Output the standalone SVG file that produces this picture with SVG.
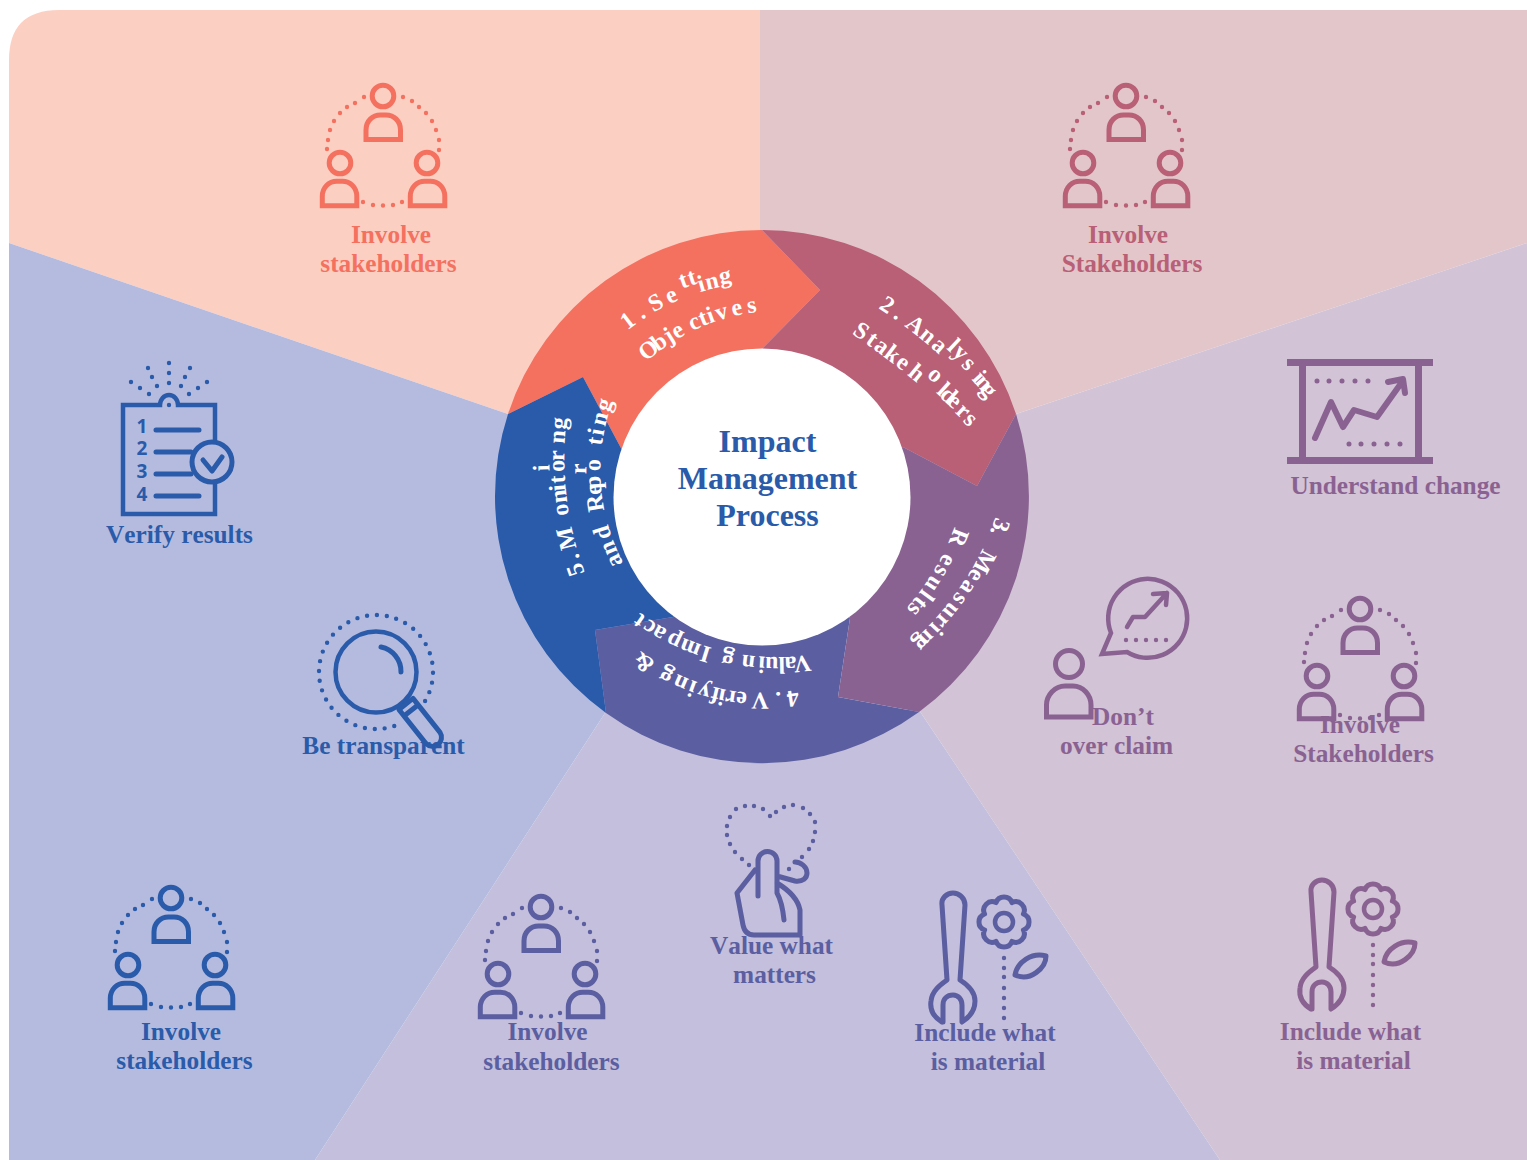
<svg xmlns="http://www.w3.org/2000/svg" width="1527" height="1160" viewBox="0 0 1527 1160">
<style>
.l{font:bold 25.3px "Liberation Serif",serif;text-anchor:middle;font-kerning:none}
.t{font:bold 32px "Liberation Serif",serif;text-anchor:middle;fill:#2a5baa}
.r{font:bold 24px "Liberation Serif",serif;fill:#fff;font-kerning:none}
.i{fill:none;stroke:currentColor;stroke-width:4.5}
.p{fill:none;stroke:currentColor;stroke-width:5}
.j{stroke-linejoin:round;stroke-linecap:round;stroke-width:5}
.d{fill:none;stroke:currentColor;stroke-width:4.4;stroke-linecap:round}
.c1{color:#f47160;fill:#f47160}.c2{color:#b95f76;fill:#b95f76}.c3{color:#8a6292;fill:#8a6292}.c4{color:#5b5ea0;fill:#5b5ea0}.c5{color:#2a5baa;fill:#2a5baa}
.n{font:bold 19px "Open Sans",sans-serif;text-anchor:middle;fill:#2a5baa}
</style>
<defs>
<path id="b" d="M0 24.5H34.5V15C34.5 6 28 0 20 0H14.5C6.5 0 0 6 0 15Z"/>
<g id="people">
<circle class="p" cx="0" cy="0" r="10.800"/><circle class="p" cx="-43" cy="67" r="10.800"/><circle class="p" cx="44" cy="67" r="10.800"/>
<use href="#b" class="p" x="-17" y="19"/><use href="#b" class="p" x="-60.700" y="85.300"/><use href="#b" class="p" x="27.300" y="85.300"/>
<path class="d" d="M-19 1h0M-28 7h0M-36 11h0M-43 17h0M-49 25h0M-53 34h0M-55 44h0M-56 53h0M20 1h0M29 5h0M36 11h0M43 17h0M49 25h0M53 34h0M56 44h0M56 54h0M-20 106h0M-10 109h0M0 109.500h0M10 109h0M19 106h0"/>
</g>
<g id="tool">
<path class="i j" d="M942 1022C932 1016 930 1008 931 1001C932 991 940 985 947 980L942 905C941 898 947 893 953 893C959 893 965 898 965 905L960 980C968 985 975 991 975 1001C975 1010 970 1017 962 1022V1005C962 999 958 995 953 995C947 995 943 999 943 1005V1022"/>
<circle class="i" cx="1004" cy="922" r="9"/>
<path class="i j" transform="translate(1004 922)" d="M19.400-8A8.500 8.500 0 0 1 19.400 8A8.500 8.500 0 0 1 8 19.400A8.500 8.500 0 0 1-8 19.400A8.500 8.500 0 0 1-19.400 8A8.500 8.500 0 0 1-19.400-8A8.500 8.500 0 0 1-8-19.400A8.500 8.500 0 0 1 8-19.400A8.500 8.500 0 0 1 19.400-8Z"/>
<path class="d" d="M1004 958h0M1004 968h0M1004 977h0M1004 988h0M1004 998h0M1004 1008h0M1004 1018h0"/>
<path class="i j" d="M1015 975C1017 962 1032 952 1046 956C1046 968 1030 982 1015 975Z"/>
</g>
<path id="t1a" d="M627.400 330.700A214 214 0 0 1 799.200 286.300"/>
<path id="t1b" d="M646.100 361.900A205 205 0 0 1 775 310.500"/>
<path id="t2a" d="M878 308A450 450 0 0 1 990 409"/>
<path id="t2b" d="M851.400 333.600A800 800 0 0 1 974.600 436"/>
<path id="t3a" d="M996 516A300 300 0 0 1 906.500 646.600"/>
<path id="t3b" d="M954.500 526.700A250 250 0 0 1 899.200 616"/>
<path id="t4a" d="M797.700 689.700A196 196 0 0 1 630.900 642.600"/>
<path id="t4b" d="M810.200 654.800A234 234 0 0 1 631.800 606.300"/>
<path id="t5a" d="M585 573A325 325 0 0 1 568 410"/>
<path id="t5b" d="M625 566A197 197 0 0 1 615 396"/>
</defs>

<g id="background">
<path fill="#fccfc3" d="M9 243V60Q9 10 59 10H760V497H762L508 414Z"/>
<path fill="#e3c6ca" d="M760 10H1527V243L1016 414L762 497H760Z"/>
<path fill="#d2c3d6" d="M1527 243V1160H1220L919 710L762 497L1016 414Z"/>
<path fill="#c3bfdc" d="M607 710H919L1220 1160H315Z"/>
<path fill="#b5bbdf" d="M9 243L508 414L762 497L607 710L315 1160H9Z"/>
</g>

<g id="ring">
<path fill="#f47160" d="M508 414A267 267 0 0 1 762 230L820 290L762 349V497L622 450L583 377Z"/>
<path fill="#b95f76" d="M762 230A267 267 0 0 1 1016 414L977 486L903 447L762 497V349L820 290Z"/>
<path fill="#8a6292" d="M1016 414A267 267 0 0 1 919 712L838 697L850 618L762 497L903 447L977 486Z"/>
<path fill="#5b5ea0" d="M919 712A267 267 0 0 1 606 713L595 630L673 617L762 497L850 618L838 697Z"/>
<path fill="#2a5baa" d="M606 713A267 267 0 0 1 508 414L583 377L622 450L762 497L673 617L595 630Z"/>
<circle cx="762" cy="497" r="148.500" fill="#fff"/>
</g>

<g id="step-1"><text class="r"><textPath href="#t1a"><tspan dx=".3 6 0 1.500 4.500 6.700 .4 -.8 .7 .7" dy="0 0 0 0 0 -9 0 9 0 -3">1. Setting</tspan></textPath></text><text class="r"><textPath href="#t1b"><tspan dx="0 -3.200 .4 .5 7.200 .2 .2 1.800 4 4.500">Objectives</tspan></textPath></text></g>
<g id="step-2"><text class="r"><textPath href="#t2a"><tspan dx="0 5 0 2.400 .7 2.300 .7 .6 2.400 8 -2.400 -4.300" dy="0 0 0 0 0 0 -9 0 2 2 0 1">2. Analysing</tspan></textPath></text><text class="r"><textPath href="#t2b"><tspan dx="0 3 1.600 .6 1.200 5 2.700 5.600 -2 -4 2.400 1" dy="0 0 0 0 0 0 -11 6 1 0 1 1">Stakeholders</tspan></textPath></text></g>
<g id="step-3"><text class="r"><textPath href="#t3a"><tspan dx=".9 -1.400 0 11.400 -1.100 2.500 3.200 3 1.300 1.100 2.800 -5.300">3. Measuring</tspan></textPath></text><text class="r"><textPath href="#t3b"><tspan dx="0 10.700 1.900 3.200 2.900 1.900 .4">Results</tspan></textPath></text></g>
<g id="step-4"><text class="r"><textPath href="#t4a"><tspan dx="0 4.800 0 .4 3.800 0 0 -.6 1 2.600 2 3.100 0 3.200">4. Verifying &amp;</tspan></textPath></text><text class="r"><textPath href="#t4b"><tspan dx=".1 -3.400 -.6 -.4 -.3 3.200 7.400 0 5.400 1.300 .8 3.300 -.2 2.300">Valuing Impact</tspan></textPath></text></g>
<g id="step-5"><text class="r"><textPath href="#t5a"><tspan dx=".3 3.400 0 -1 11 .7 -1.600 .9 3.400 -1.300 -20.300 20 .7" dy="0 0 0 0 0 0 0 0 0 0 -15 15 0">5. Monitoring</tspan></textPath></text><text class="r"><textPath href="#t5b"><tspan dx="3.400 .6 2.700 0 8.100 -1 -5.100 4 -14.900 17.600 1.700 2.900 1.400" dy="0 0 0 0 0 0 0 0 -14 14 0 0 0">and Reporting</tspan></textPath></text></g>

<g id="center"><text class="t" x="767.500" y="452">Impact</text><text class="t" x="767.500" y="489">Management</text><text class="t" x="767.500" y="526">Process</text></g>

<g id="involve-coral" class="c1"><use href="#people" x="383" y="96"/><text class="l" x="391" y="243">Involve</text><text class="l" x="388.500" y="272">stakeholders</text></g>
<g id="involve-rose" class="c2"><use href="#people" x="1126" y="96"/><text class="l" x="1128" y="243">Involve</text><text class="l" x="1132" y="272">Stakeholders</text></g>

<g id="understand-change" class="c3">
<path fill="none" stroke="currentColor" stroke-width="7" d="M1287 362.500H1433M1287 460.500H1433M1302.500 362V460M1418.500 362V460"/>
<path class="d" style="stroke-width:5" d="M1317 381h0M1329 381h0M1342 381h0M1355 381h0M1368 381h0M1349 444h0M1361 444h0M1374 444h0M1387 444h0M1400 444h0"/>
<path fill="none" stroke="currentColor" stroke-width="6" stroke-linecap="round" stroke-linejoin="round" d="M1315 438L1331 402L1343 427L1354 410L1377 417L1402 382M1388 382L1403 379L1405 393"/>
<text class="l" x="1395.500" y="494">Understand change</text>
</g>

<g id="dont-over-claim" class="c3">
<path class="i" stroke-linejoin="miter" d="M1111 633A39.500 39.500 0 1 1 1127 652L1102 654Z"/>
<path fill="none" stroke="currentColor" stroke-width="4.500" stroke-linecap="round" stroke-linejoin="round" d="M1127 627L1133 617H1145L1167 593M1153 594L1167 593L1166 605"/>
<path class="d" d="M1126 640h0M1136 640h0M1146 640h0M1156 640h0M1166 640h0"/>
<circle class="p" cx="1069" cy="664" r="13.500"/>
<path class="p" d="M1046.500 717H1091V705C1091 695 1083 686 1073 686H1065C1055 686 1046.500 695 1046.500 705Z"/>
<text class="l" x="1123" y="725">Don’t</text><text class="l" x="1116.500" y="754">over claim</text>
</g>

<g id="involve-purple" class="c3"><use href="#people" x="1360" y="609"/><text class="l" x="1360" y="733">Involve</text><text class="l" x="1363.500" y="762">Stakeholders</text></g>

<g id="material-purple" class="c3"><use href="#tool" x="369" y="-13"/><text class="l" x="1350.500" y="1040">Include what</text><text class="l" x="1353.500" y="1069">is material</text></g>
<g id="material-indigo" class="c4"><use href="#tool"/><text class="l" x="985" y="1041">Include what</text><text class="l" x="988" y="1070">is material</text></g>

<g id="value-what-matters" class="c4">
<path class="d" d="M770 816h0M763 809h0M754 806h0M745 806h0M736 809h0M730 817h0M727 826h0M727 835h0M730 844h0M735 852h0M742 859h0M749 865h0M776 812h0M784 807h0M793 805h0M803 808h0M810 814h0M815 822h0M815 832h0M813 841h0M809 849h0M802 857h0M789 869h0"/>
<path class="i j" d="M758 896V861A9.500 9.500 0 0 1 777 861V893C781 900 783 910 784 920M755 870L737 893L743 925Q745 935 754 935H800V910Q797 895 777 883M777 876L795 881C803 882 807 878 807 873C807 867 801 862 795 862"/>
<text class="l" x="771.500" y="954">Value what</text><text class="l" x="774.500" y="983">matters</text>
</g>

<g id="involve-indigo" class="c4"><use href="#people" x="541" y="907"/><text class="l" x="547.500" y="1040">Involve</text><text class="l" x="551.500" y="1070">stakeholders</text></g>
<g id="involve-blue" class="c5"><use href="#people" x="171" y="898"/><text class="l" x="181" y="1040">Involve</text><text class="l" x="184.500" y="1069">stakeholders</text></g>

<g id="verify-results" class="c5">
<path class="i" stroke-linejoin="miter" d="M215 441V405H178A9 10 0 0 0 160 405H123V514H215V483"/>
<circle class="i" cx="212" cy="462" r="20" style="stroke-width:5"/>
<path class="i j" d="M156 430H199M156 452H191M156 474H191M156 496H199M203 460L212 471L222 457"/>
<path class="d" d="M169 363h0M169 373h0M169 383h0M148 368h0M152 377h0M157 386h0M190 368h0M185 377h0M181 386h0M131 382h0M140 388h0M149 394h0M207 382h0M198 388h0M189 394h0M169 405h0"/>
<text class="n" x="142" y="433">1</text><text class="n" x="142" y="455">2</text><text class="n" x="142" y="478">3</text><text class="n" x="142" y="501">4</text>
<text class="l" x="179.500" y="543">Verify results</text>
</g>

<g id="be-transparent" class="c5">
<circle class="i" cx="376" cy="672" r="40.500"/>
<path class="i j" d="M381 647A25 25 0 0 1 401 672"/>
<path class="d" stroke-dasharray="0 9.900" d="M425.100 701A57 57 0 1 0 395.200 725.700"/>
<path class="i j" d="M399 709.600L413 698.400L440 732.400A9 9 0 0 1 426 743.600ZM404 716L418 705"/>
<text class="l" x="383.500" y="754">Be transparent</text>
</g>
</svg>
